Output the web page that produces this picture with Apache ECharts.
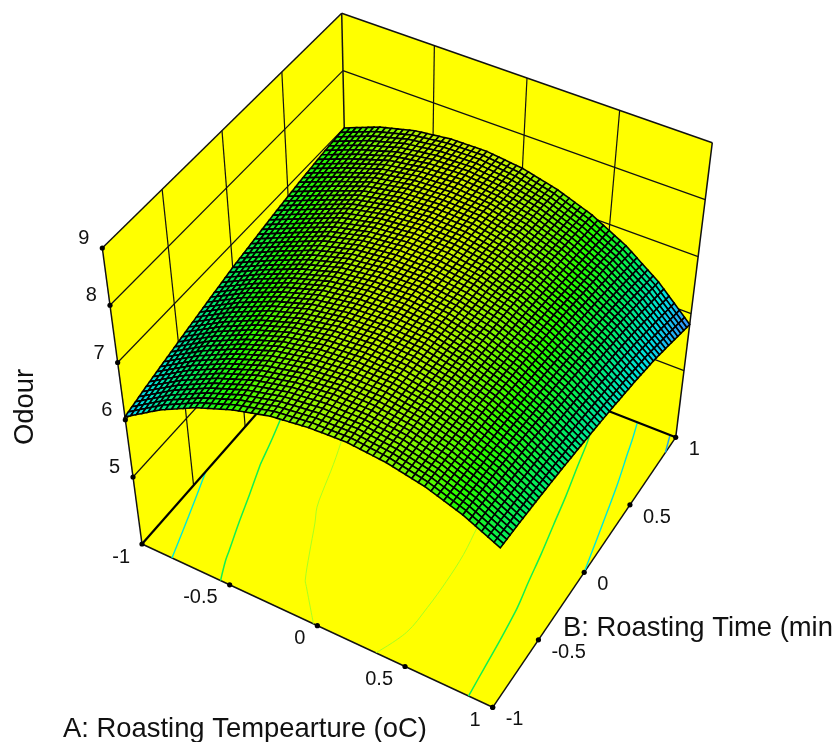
<!DOCTYPE html>
<html><head><meta charset="utf-8">
<style>html,body{margin:0;padding:0;background:#fff}#c{width:835px;height:742px}</style>
<script src="https://cdn.jsdelivr.net/npm/echarts@6/dist/echarts.min.js"></script>
</head><body><div id="c"></div>
<script>
// ---- chart values ----
const gridA = [-1,-0.8,-0.6,-0.4,-0.2,0,0.2,0.4,0.6,0.8,1];
const gridB = [-1,-0.8,-0.6,-0.4,-0.2,0,0.2,0.4,0.6,0.8,1];
// odour[row for B][column for A]
const odour = [
 [6.05,6.46,6.79,7.04,7.22,7.31,7.34,7.28,7.15,6.94,6.65],
 [6.17,6.56,6.88,7.13,7.29,7.37,7.37,7.30,7.15,6.92,6.62],
 [6.28,6.66,6.97,7.21,7.35,7.41,7.40,7.31,7.14,6.90,6.58],
 [6.39,6.75,7.05,7.27,7.40,7.45,7.42,7.31,7.13,6.87,6.53],
 [6.50,6.84,7.12,7.33,7.44,7.47,7.43,7.30,7.10,6.82,6.47],
 [6.61,6.91,7.18,7.38,7.47,7.49,7.42,7.28,7.07,6.77,6.40],
 [6.70,6.98,7.25,7.42,7.50,7.49,7.41,7.26,7.02,6.71,6.32],
 [6.79,7.05,7.31,7.45,7.51,7.49,7.39,7.22,6.97,6.64,6.23],
 [6.87,7.12,7.35,7.47,7.51,7.48,7.36,7.17,6.90,6.56,6.12],
 [6.94,7.18,7.38,7.48,7.51,7.45,7.32,7.11,6.83,6.45,5.97],
 [7.00,7.24,7.40,7.48,7.49,7.42,7.27,7.05,6.74,6.33,5.81]
];
const contourLevels = [5.9,6.4,6.85,7.3];
const contourColors = ['#22a8e8','#00e8d8','#10f050','#a8ff20'];
const contourWidths = [1.5,1.4,1.5,1];
const aTicks = [-1,-0.5,0,0.5,1];
const bTicks = [-1,-0.5,0,0.5,1];
const zTicks = [9,8,7,6,5];
const aTickLabels = ['-1','-0.5','0','0.5','1'];
const bTickLabels = ['-1','-0.5','0','0.5','1'];
const zTickLabels = ['9','8','7','6','5'];
const titleA = 'A: Roasting Tempearture (oC)';
const titleB = 'B: Roasting Time (min';
const titleZ = 'Odour';
const floorZ = 3.83, topZ = 9;

// ---- view box: where the cube corners sit in the picture; points are placed trilinearly ----
const viewFloor = {ll:[142,544], hl:[492.7,707.3], hh:[675.7,437.3], lh:[348.3,309.6]};
const viewTop   = {ll:[102.3,248], hl:[506.6,415], hh:[712.3,142.7], lh:[341.7,13.3]};
function project(a,b,z){
  const u=(a+1)/2,v=(b+1)/2,t=(z-floorZ)/(topZ-floorZ);
  const at=(q,k)=>(1-u)*(1-v)*q.ll[k]+u*(1-v)*q.hl[k]+u*v*q.hh[k]+(1-u)*v*q.lh[k];
  return [0,1].map(k=>(1-t)*at(viewFloor,k)+t*at(viewTop,k));
}
const P3=(api,a,b,z)=>api.coord(project(a,b,z));
const poly=(api,pts,style)=>({type:'polygon',shape:{points:pts.map(p=>P3(api,p[0],p[1],p[2]))},style});
const seg=(api,p,q,stroke,lineWidth)=>({type:'line',shape:(()=>{const s=P3(api,...p),e=P3(api,...q);return{x1:s[0],y1:s[1],x2:e[0],y2:e[1]};})(),style:{stroke,lineWidth,fill:null}});

// ---- surface colours by height ----
const colorStops=[[5.85,[50,150,255]],[6.2,[0,225,225]],[6.6,[0,235,100]],[7.0,[40,250,0]],[7.55,[225,240,0]]];
function colorOf(z){
  let s=colorStops;
  if(z<=s[0][0])return `rgb(${s[0][1]})`;
  for(let i=1;i<s.length;i++)if(z<=s[i][0]){
    const t=(z-s[i-1][0])/(s[i][0]-s[i-1][0]);
    return `rgb(${s[i][1].map((v,k)=>Math.round(s[i-1][1][k]+t*(v-s[i-1][1][k])))})`;
  }
  return `rgb(${s[s.length-1][1]})`;
}

const contourChains=[];
contourLevels.forEach((L,k)=>{
  const segs=[];
  for(let j=0;j<gridB.length-1;j++)for(let i=0;i<gridA.length-1;i++){
    const c=[[gridA[i],gridB[j],odour[j][i]],[gridA[i+1],gridB[j],odour[j][i+1]],[gridA[i+1],gridB[j+1],odour[j+1][i+1]],[gridA[i],gridB[j+1],odour[j+1][i]]];
    const hits=[];
    for(let e=0;e<4;e++){
      const p=c[e],q=c[(e+1)%4];
      if((p[2]>=L)!==(q[2]>=L)){const t=(L-p[2])/(q[2]-p[2]);hits.push([p[0]+t*(q[0]-p[0]),p[1]+t*(q[1]-p[1])]);}
    }
    if(hits.length>=2)segs.push([hits[0],hits[1]]);
  }
  const same=(p,q)=>Math.abs(p[0]-q[0])<1e-9&&Math.abs(p[1]-q[1])<1e-9;
  while(segs.length){
    const chain=segs.pop().slice();
    let grown=true;
    while(grown){
      grown=false;
      for(let s=0;s<segs.length;s++){
        const [p,q]=segs[s],h=chain[0],t=chain[chain.length-1];
        if(same(t,p))chain.push(q);else if(same(t,q))chain.push(p);
        else if(same(h,p))chain.unshift(q);else if(same(h,q))chain.unshift(p);
        else continue;
        segs.splice(s,1);grown=true;break;
      }
    }
    contourChains.push({level:k,pts:chain});
  }
});

// ---- surface cells, far corner first ----
const SUB=6;
const cells=[];
for(let j=gridB.length-2;j>=0;j--)for(let i=0;i<gridA.length-1;i++)cells.push([i,j]);
function renderCell(params,api){
  const i=api.value(0),j=api.value(1),kids=[];
  const z=(u,v)=>(1-u)*(1-v)*odour[j][i]+u*(1-v)*odour[j][i+1]+u*v*odour[j+1][i+1]+(1-u)*v*odour[j+1][i];
  const A=u=>gridA[i]+u*(gridA[i+1]-gridA[i]),B=v=>gridB[j]+v*(gridB[j+1]-gridB[j]);
  for(let m=SUB-1;m>=0;m--)for(let n=0;n<SUB;n++){
    const u0=n/SUB,u1=(n+1)/SUB,v0=m/SUB,v1=(m+1)/SUB;
    kids.push(poly(api,[[A(u0),B(v0),z(u0,v0)],[A(u1),B(v0),z(u1,v0)],[A(u1),B(v1),z(u1,v1)],[A(u0),B(v1),z(u0,v1)]],
      {fill:colorOf(z((u0+u1)/2,(v0+v1)/2)),stroke:'#000',lineWidth:1.6}));
  }
  return {type:'group',children:kids};
}

function renderFrame(params,api){
  const kids=[],Y='#ffff00',K='#111';
  kids.push(poly(api,[[-1,-1,floorZ],[1,-1,floorZ],[1,1,floorZ],[-1,1,floorZ]],{fill:Y}));
  kids.push(poly(api,[[-1,-1,floorZ],[-1,1,floorZ],[-1,1,topZ],[-1,-1,topZ]],{fill:Y}));
  kids.push(poly(api,[[-1,1,floorZ],[1,1,floorZ],[1,1,topZ],[-1,1,topZ]],{fill:Y}));
  zTicks.slice(1).forEach(z=>{
    kids.push(seg(api,[-1,-1,z],[-1,1,z],K,1.2));
    kids.push(seg(api,[-1,1,z],[1,1,z],K,1.2));
  });
  [-0.5,0,0.5].forEach(t=>{
    kids.push(seg(api,[-1,t,floorZ],[-1,t,topZ],K,1.2));
    kids.push(seg(api,[t,1,floorZ],[t,1,topZ],K,1.2));
  });
  [[[-1,-1,floorZ],[-1,-1,topZ]],[[-1,1,floorZ],[-1,1,topZ]],[[1,1,floorZ],[1,1,topZ]],
   [[-1,-1,topZ],[-1,1,topZ]],[[-1,1,topZ],[1,1,topZ]],
   [[-1,-1,floorZ],[1,-1,floorZ]],[[1,-1,floorZ],[1,1,floorZ]]].forEach(s=>kids.push(seg(api,s[0],s[1],K,1.5)));
  return {type:'group',children:kids};
}
function renderEdges(params,api){
  return {type:'group',children:[
    seg(api,[-1,-1,floorZ],[-1,1,floorZ],'#000',2.2),
    seg(api,[-1,1,floorZ],[1,1,floorZ],'#000',2.2)]};
}

// ---- tick marks and their labels ----
const tickRows=[];
aTicks.forEach((t,i)=>tickRows.push([t,-1,floorZ,aTickLabels[i],'right',-12,13]));
bTicks.forEach((t,i)=>tickRows.push([1,t,floorZ,bTickLabels[i],'left',13,12.5]));
zTicks.forEach((t,i)=>tickRows.push([-1,-1,t,zTickLabels[i],'right',-13,-9.5]));
function renderTick(params,api){
  const r=tickRows[params.dataIndex],p=P3(api,r[0],r[1],r[2]);
  return {type:'group',children:[
    {type:'circle',shape:{cx:p[0],cy:p[1],r:2.6},style:{fill:'#000'}},
    {type:'text',style:{text:r[3],x:p[0]+r[5],y:p[1]+r[6],align:r[4],verticalAlign:'middle',
      font:'20px "Liberation Sans", Arial, sans-serif',fill:'#111'}}
  ]};
}

const chart=echarts.init(document.getElementById('c'),null,{renderer:'canvas'});
const base={type:'custom',coordinateSystem:'cartesian2d',clip:false,silent:true,animation:false,progressive:0};
const titleFont='27.4px "Liberation Sans", Arial, sans-serif';
chart.setOption({
  animation:false,
  grid:{left:0,right:0,top:0,bottom:0},
  xAxis:{type:'value',min:0,max:835,show:false},
  yAxis:{type:'value',min:0,max:742,inverse:true,show:false},
  graphic:[
    {type:'text',x:63,y:729,silent:true,style:{text:titleA,verticalAlign:'middle',font:titleFont,fill:'#111'}},
    {type:'text',x:563,y:628,silent:true,style:{text:titleB,verticalAlign:'middle',font:titleFont,fill:'#111'}},
    {type:'text',x:25,y:407,rotation:Math.PI/2,silent:true,style:{text:titleZ,align:'center',verticalAlign:'middle',font:titleFont,fill:'#111'}}
  ],
  series:[
    {...base,name:'frame',z:1,data:[[0,0]],renderItem:renderFrame},
    {...base,name:'contours',z:2,data:contourChains.map((c,i)=>[i,c.level]),renderItem:(p,api)=>{
      const c=contourChains[p.dataIndex];
      return {type:'polyline',shape:{points:c.pts.map(q=>P3(api,q[0],q[1],floorZ)),smooth:0.35},
        style:{stroke:contourColors[c.level],lineWidth:contourWidths[c.level],fill:null}};
    }},
    {...base,name:'floorEdges',z:3,data:[[0,0]],renderItem:renderEdges},
    {...base,name:'Odour',z:4,data:cells,renderItem:renderCell},
    {...base,name:'ticks',z:5,data:tickRows.map(r=>[r[0],r[1]]),renderItem:renderTick}
  ]
});
</script></body></html>
